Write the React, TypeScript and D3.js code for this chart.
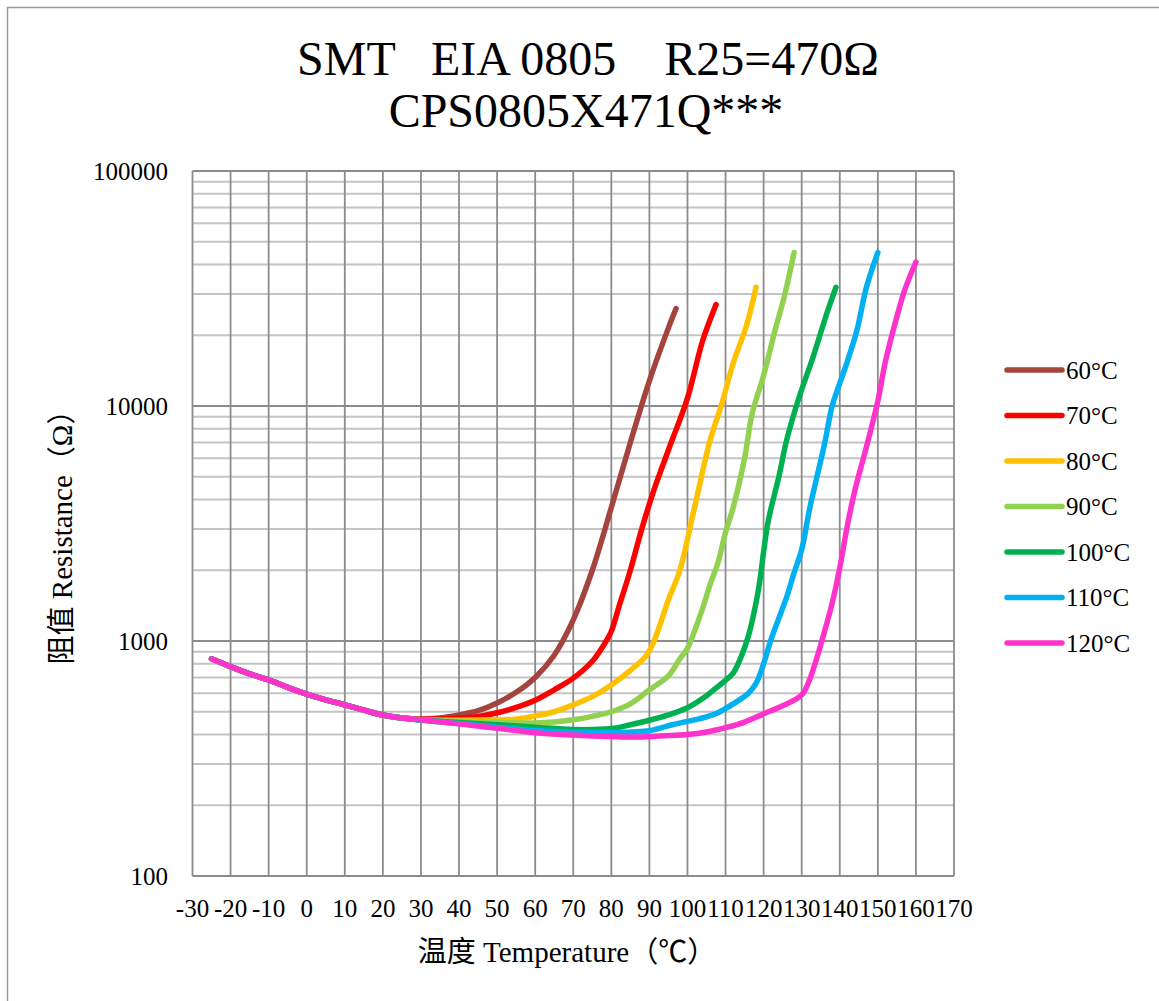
import React from "react";
import * as d3 from "d3";

// ---- data ----
const baseTemps = [-25, -20, -15, -10, -5, 0, 5, 10, 15, 20, 25];
const baseValues = [840, 778, 725, 683, 635, 594, 562, 535, 508, 484, 470];

const seriesNames = ["60℃", "70℃", "80℃", "90℃", "100℃", "110℃", "120℃"];
const legendLabels = ["60°C", "70°C", "80°C", "90°C", "100°C", "110°C", "120°C"];
const seriesColors = ["#A5443F", "#FF0000", "#FFC000", "#92D050", "#00B050", "#00B0F0", "#FF33CC"];

const temps60 = [30, 35, 40, 45, 50, 55, 60, 65, 70, 75, 80, 85, 90, 95, 97];
const vals60 = [465, 470, 484, 505, 545, 605, 700, 870, 1230, 2000, 3700, 7000, 12800, 21500, 26000];

const temps70 = [30, 40, 45, 50, 55, 60, 65, 70, 75, 78, 80, 82, 85, 88, 91, 95, 100, 104, 107.5];
const vals70 = [465, 470, 477, 495, 522, 560, 620, 695, 820, 960, 1100, 1400, 2000, 3000, 4300, 6500, 10800, 19000, 27000];

const temps80 = [30, 40, 50, 55, 60, 65, 70, 75, 80, 85, 89, 91, 93, 95, 98, 102, 106, 109, 112, 115.5, 118];
const vals80 = [462, 460, 462, 465, 480, 500, 535, 580, 650, 750, 860, 980, 1200, 1500, 2000, 3800, 7200, 10200, 15200, 22000, 32000];

const temps90 = [30, 40, 50, 60, 65, 70, 75, 80, 85, 90, 95, 98, 100, 102, 104, 106, 108, 110, 112, 115, 117, 120, 123, 125.5, 128];
const vals90 = [462, 455, 450, 448, 452, 462, 478, 500, 540, 620, 710, 840, 930, 1120, 1380, 1750, 2150, 2900, 3700, 6000, 9300, 13500, 21000, 29500, 45000];

const temps100 = [30, 40, 50, 60, 70, 80, 85, 90, 95, 100, 105, 108, 110, 112, 114, 116, 118, 119, 120, 121, 122, 124, 126, 129, 133, 136.5, 139];
const vals100 = [462, 450, 440, 430, 420, 424, 440, 460, 485, 520, 585, 640, 680, 730, 850, 1050, 1450, 1800, 2400, 3100, 3700, 5000, 7100, 10500, 16200, 24500, 32000];

const temps110 = [30, 40, 50, 60, 70, 80, 90, 96, 100, 105, 108, 112, 116, 118, 120, 122, 124, 126, 128, 130, 132, 134, 136, 138, 140, 142, 144.5, 147, 150];
const vals110 = [460, 446, 430, 416, 410, 408, 415, 440, 455, 475, 495, 540, 600, 660, 800, 1020, 1250, 1530, 1950, 2450, 3600, 5000, 6900, 10000, 12500, 15500, 21000, 32000, 45000];

const temps120 = [30, 40, 50, 60, 70, 80, 87, 95, 100, 105, 110, 115, 120, 125, 130, 132, 134, 136, 138, 140, 142, 144, 147, 150, 152, 155, 157, 160];
const vals120 = [462, 444, 425, 407, 398, 392, 390, 396, 400, 410, 428, 452, 490, 530, 590, 680, 850, 1100, 1450, 2050, 3100, 4400, 6700, 10500, 15500, 24000, 31000, 41000];

const seriesTemps = [temps60, temps70, temps80, temps90, temps100, temps110, temps120];
const seriesVals = [vals60, vals70, vals80, vals90, vals100, vals110, vals120];

const xTicks = [-30, -20, -10, 0, 10, 20, 30, 40, 50, 60, 70, 80, 90, 100, 110, 120, 130, 140, 150, 160, 170];
const yMajorTicks = [100, 1000, 10000, 100000];

const titleLine1 = "SMT   EIA 0805    R25=470Ω";
const titleLine2 = "CPS0805X471Q***";
const xTitle = "温度 Temperature（℃）";
const yTitle = "阻值 Resistance（Ω）";

const FONT = "'Liberation Serif', 'Times New Roman', 'Noto Sans CJK SC', serif";

export default function App() {
  const left = 192.5, right = 954, top = 171, bottom = 876;
  const x = d3.scaleLinear().domain([-30, 170]).range([left, right]);
  const y = d3.scaleLog().domain([100, 100000]).range([bottom, top]);

  const minor: number[] = [];
  for (let dec = 100; dec < 100000; dec *= 10) {
    for (let k = 2; k <= 9; k++) minor.push(dec * k);
  }

  const line = d3
    .line<[number, number]>()
    .x((d) => x(d[0]))
    .y((d) => y(d[1]))
    .curve(d3.curveCatmullRom.alpha(0.5));

  const legendX0 = 1007, legendX1 = 1062, legendY0 = 370, legendStep = 45.5;

  return (
    <svg
      width={1159}
      height={1001}
      style={{ position: "absolute", left: 0, top: 0, background: "#fff" }}
      fontFamily={FONT}
    >
      <rect x={0} y={0} width={1159} height={1001} fill="#fff" />
      <rect x={7.5} y={7.5} width={1170} height={1010} fill="none" stroke="#9a9a9a" strokeWidth={1.5} />

      {/* minor horizontal grid */}
      {minor.map((v) => (
        <line key={"m" + v} x1={left} x2={right} y1={y(v)} y2={y(v)} stroke="#c4c4c4" strokeWidth={2} />
      ))}
      {/* vertical grid */}
      {xTicks.map((t) => (
        <line key={"v" + t} x1={x(t)} x2={x(t)} y1={top} y2={bottom} stroke="#8c8c8c" strokeWidth={1.8} />
      ))}
      {/* major horizontal grid */}
      {yMajorTicks.map((v) => (
        <line key={"M" + v} x1={left} x2={right} y1={y(v)} y2={y(v)} stroke="#8c8c8c" strokeWidth={2} />
      ))}

      {/* y tick labels */}
      {yMajorTicks.map((v) => (
        <text key={"yl" + v} x={168} y={y(v)} dy="0.35em" textAnchor="end" fontSize={25} fill="#000">
          {String(v)}
        </text>
      ))}
      {/* x tick labels */}
      {xTicks.map((t) => (
        <text key={"xl" + t} x={x(t)} y={917} textAnchor="middle" fontSize={25} fill="#000">
          {String(t)}
        </text>
      ))}

      {/* series */}
      {seriesTemps.map((ts, i) => {
        const pts: [number, number][] = [];
        baseTemps.forEach((t, j) => pts.push([t, baseValues[j]]));
        ts.forEach((t, j) => pts.push([t, seriesVals[i][j]]));
        return (
          <path
            key={seriesNames[i]}
            d={line(pts) || ""}
            fill="none"
            stroke={seriesColors[i]}
            strokeWidth={5.5}
            strokeLinecap="round"
            strokeLinejoin="round"
          />
        );
      })}

      {/* legend */}
      {legendLabels.map((lab, i) => (
        <g key={"lg" + i}>
          <line
            x1={legendX0}
            x2={legendX1}
            y1={legendY0 + i * legendStep}
            y2={legendY0 + i * legendStep}
            stroke={seriesColors[i]}
            strokeWidth={5.5}
            strokeLinecap="round"
          />
          <text x={1066} y={legendY0 + i * legendStep} dy="0.35em" fontSize={25} fill="#000">
            {lab}
          </text>
        </g>
      ))}

      {/* titles */}
      <text x={588} y={58} dy="0.35em" textAnchor="middle" fontSize={48} fill="#000" style={{ whiteSpace: "pre" }}>
        {titleLine1}
      </text>
      <text x={586} y={110} dy="0.35em" textAnchor="middle" fontSize={48} fill="#000">
        {titleLine2}
      </text>
      <text x={567} y={952} dy="0.35em" textAnchor="middle" fontSize={29} fill="#000">
        {xTitle}
      </text>
      <text
        transform={`translate(62,530) rotate(-90)`}
        dy="0.35em"
        textAnchor="middle"
        fontSize={29}
        fill="#000"
      >
        {yTitle}
      </text>
    </svg>
  );
}
